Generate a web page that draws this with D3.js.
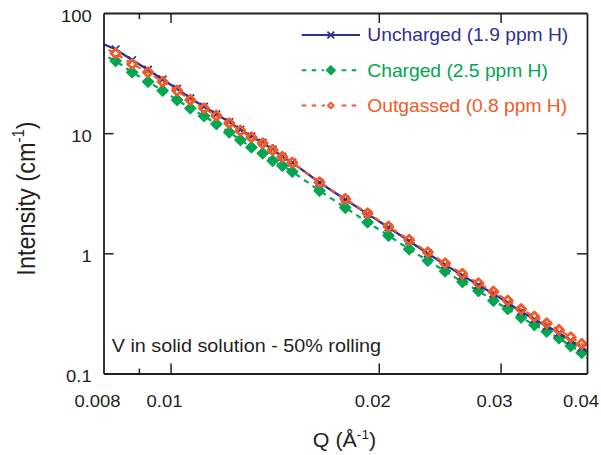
<!DOCTYPE html>
<html>
<head>
<meta charset="utf-8">
<script src="https://cdn.jsdelivr.net/npm/d3@7"></script>
<style>
  html, body { margin: 0; padding: 0; background: #fff; }
  svg { display: block; font-family: "Liberation Sans", Arial, Helvetica, sans-serif; }
</style>
</head>
<body>
<svg id="chart" width="601" height="455"></svg>
<script>
// Scattering vector Q (1/Å), shared by all three samples
const qValues = [0.00788, 0.00833, 0.00880, 0.00928, 0.00974, 0.01022, 0.01068, 0.01118,
  0.01165, 0.01216, 0.01262, 0.01309, 0.01359, 0.01405, 0.01451, 0.01500,
  0.01642, 0.01789, 0.01927, 0.02066, 0.02213, 0.02355, 0.02494, 0.02642,
  0.02787, 0.02929, 0.03073, 0.03212, 0.03357, 0.03498, 0.03644, 0.03789,
  0.03930, 0.04070];

// Intensity (1/cm) per sample
const uncharged = [57.0, 49.9, 40.6, 33.7, 27.98, 23.46, 19.55, 16.61, 14.36, 12.37, 10.69,
  9.39, 8.34, 7.30, 6.37, 5.68, 3.882, 2.808, 2.131, 1.643, 1.268, 0.998, 0.805,
  0.654, 0.545, 0.462, 0.3876, 0.3273, 0.2829, 0.2484, 0.2177, 0.1885, 0.1649, 0.1447];
const charged = [46.7, 39.9, 32.1, 26.8, 22.6, 18.9, 16.1, 13.9, 11.93, 10.17, 8.78,
  7.63, 6.80, 5.90, 5.36, 4.78, 3.323, 2.400, 1.814, 1.404, 1.082, 0.870, 0.710,
  0.578, 0.487, 0.404, 0.345, 0.292, 0.2537, 0.2232, 0.1967, 0.1697, 0.1487, 0.1348];
const outgassed = [53.6, 46.2, 37.65, 32.1, 26.8, 22.6, 18.9, 16.1, 13.98, 12.09, 10.49,
  9.25, 8.24, 7.25, 6.34, 5.68, 3.905, 2.836, 2.156, 1.668, 1.293, 1.021, 0.827,
  0.674, 0.564, 0.480, 0.404, 0.343, 0.297, 0.262, 0.2305, 0.2004, 0.1763, 0.1557];

const seriesNames = ["Uncharged (1.9 ppm H)", "Charged (2.5 ppm H)", "Outgassed (0.8 ppm H)"];

// Axis ticks
const xLabelTicks = [0.008, 0.01, 0.02, 0.03, 0.04];
const xMajorTicks = [0.01, 0.02, 0.03];
const xMinorTicks = [0.009];
const yLabelTicks = [0.1, 1, 10, 100];
const yInnerTicks = [1, 10];
const annotation = "V in solid solution - 50% rolling";

const INK = "#231f20";
const BLUE = "#2e3192";
const GREEN = "#00a651";
const ORANGE = "#f15a29";
const FONT_STRETCH = 1.1;

const plotLeft = 103.5, plotRight = 587, plotTop = 13, plotBottom = 373.5;

const svg = d3.select("#chart");
const x = d3.scaleLog().domain([0.008, 0.04]).range([plotLeft, plotRight]);
const y = d3.scaleLog().domain([0.1, 100]).range([plotBottom, plotTop]);

svg.append("defs").append("clipPath").attr("id", "plot-area")
  .append("rect").attr("x", plotLeft).attr("y", plotTop)
  .attr("width", plotRight - plotLeft).attr("height", plotBottom - plotTop);

// Marker shapes
function diamond(cx, cy, r) {
  return `M${cx},${cy - r}L${cx + r},${cy}L${cx},${cy + r}L${cx - r},${cy}Z`;
}
function cross(cx, cy, r) {
  return `M${cx - r},${cy - r}L${cx + r},${cy + r}M${cx - r},${cy + r}L${cx + r},${cy - r}`;
}

const makeRows = vals => qValues.map((q, i) => ({ q, v: vals[i] }));
const line = d3.line().x(d => x(d.q)).y(d => y(d.v));

const plot = svg.append("g").attr("clip-path", "url(#plot-area)");

// Charged: dashed green with filled diamonds
const gCharged = plot.append("g");
gCharged.append("path").datum(makeRows(charged)).attr("d", line)
  .attr("fill", "none").attr("stroke", GREEN).attr("stroke-width", 2.2)
  .attr("stroke-dasharray", "5.5,5");
gCharged.selectAll("path.m").data(makeRows(charged)).join("path").attr("class", "m")
  .attr("d", d => diamond(x(d.q), y(d.v), 5.6)).attr("fill", GREEN)
  .attr("stroke", GREEN).attr("stroke-width", 1.2).attr("stroke-linejoin", "round");

// Uncharged: solid blue with crosses
const gUncharged = plot.append("g");
gUncharged.append("path").datum(makeRows(uncharged)).attr("d", line)
  .attr("fill", "none").attr("stroke", BLUE).attr("stroke-width", 2.3);
gUncharged.selectAll("path.m").data(makeRows(uncharged)).join("path").attr("class", "m")
  .attr("d", d => cross(x(d.q), y(d.v), 3.8)).attr("fill", "none")
  .attr("stroke", BLUE).attr("stroke-width", 1.7);

// Outgassed: dashed orange with open diamonds
const gOut = plot.append("g");
gOut.append("path").datum(makeRows(outgassed)).attr("d", line)
  .attr("fill", "none").attr("stroke", ORANGE).attr("stroke-width", 2.2)
  .attr("stroke-dasharray", "5.5,5");
gOut.selectAll("path.m").data(makeRows(outgassed)).join("path").attr("class", "m")
  .attr("d", d => diamond(x(d.q), y(d.v), 4.6)).attr("fill", "none")
  .attr("stroke", ORANGE).attr("stroke-width", 2.8).attr("stroke-linejoin", "round");

// Axes: ticks point inward, frame drawn by the axis domains
function styleAxis(g) {
  g.selectAll(".domain").attr("stroke", INK).attr("stroke-width", 1.8);
  g.selectAll(".tick line").attr("stroke", INK).attr("stroke-width", 1.5);
}

const fmtX = d => String(d);
const axB = svg.append("g").attr("transform", `translate(0,${plotBottom})`)
  .call(d3.axisBottom(x).tickValues(xLabelTicks).tickSizeInner(-10).tickSizeOuter(0).tickFormat(fmtX));
axB.selectAll(".tick line").filter(d => d === 0.008 || d === 0.04).remove();
axB.selectAll(".tick text")
  .attr("y", 0).attr("dy", 0)
  .attr("x", -6.5 / FONT_STRETCH)
  .attr("transform", `translate(0,33) scale(${FONT_STRETCH},1)`)
  .attr("font-size", 16.8).attr("fill", INK);
axB.attr("font-family", null).attr("font-size", null);
styleAxis(axB);

const axBm = svg.append("g").attr("transform", `translate(0,${plotBottom})`)
  .call(d3.axisBottom(x).tickValues(xMinorTicks).tickSize(-5).tickFormat(""));
axBm.select(".domain").remove();
styleAxis(axBm);

const axT = svg.append("g").attr("transform", `translate(0,${plotTop})`)
  .call(d3.axisTop(x).tickValues(xMajorTicks).tickSizeInner(-10).tickSizeOuter(0).tickFormat(""));
styleAxis(axT);
const axTm = svg.append("g").attr("transform", `translate(0,${plotTop})`)
  .call(d3.axisTop(x).tickValues(xMinorTicks).tickSize(-6).tickFormat(""));
axTm.select(".domain").remove();
styleAxis(axTm);

const axL = svg.append("g").attr("transform", `translate(${plotLeft},0)`)
  .call(d3.axisLeft(y).tickValues(yLabelTicks).tickSizeInner(-10).tickSizeOuter(0)
    .tickFormat(d => String(d)));
axL.selectAll(".tick line").filter(d => d === 0.1 || d === 100).remove();
axL.selectAll(".tick text")
  .attr("x", 0).attr("dy", 0).attr("y", 0)
  .attr("transform", `translate(-11.8,8) scale(${FONT_STRETCH},1)`)
  .attr("font-size", 16.8).attr("fill", INK);
axL.attr("font-family", null).attr("font-size", null);
styleAxis(axL);

const axR = svg.append("g").attr("transform", `translate(${plotRight},0)`)
  .call(d3.axisRight(y).tickValues(yInnerTicks).tickSizeInner(-10).tickSizeOuter(0).tickFormat(""));
styleAxis(axR);

// Axis titles
const xTitle = svg.append("text")
  .attr("transform", `translate(344.5,446.5) scale(${FONT_STRETCH},1)`)
  .attr("text-anchor", "middle").attr("font-size", 19.5).attr("fill", INK);
xTitle.append("tspan").text("Q (Å");
xTitle.append("tspan").attr("font-size", 12.5).attr("dy", -8).text("-1");
xTitle.append("tspan").attr("dy", 8).text(")");

const yTitle = svg.append("text")
  .attr("transform", `translate(35,198.5) scale(${FONT_STRETCH},1) rotate(-90)`)
  .attr("text-anchor", "middle").attr("font-size", 23.5).attr("fill", INK);
yTitle.append("tspan").text("Intensity (cm");
yTitle.append("tspan").attr("font-size", 15).attr("dy", -10).text("-1");
yTitle.append("tspan").attr("dy", 10).text(")");

// Annotation
svg.append("text")
  .attr("transform", `translate(111.7,351.7) scale(${FONT_STRETCH},1)`)
  .attr("font-size", 18).attr("fill", INK).text(annotation);

// Legend
const legendRows = [
  { name: seriesNames[0], color: BLUE, dash: null, marker: "cross" },
  { name: seriesNames[1], color: GREEN, dash: "4.5,5.5", marker: "filled" },
  { name: seriesNames[2], color: ORANGE, dash: "4.5,5.5", marker: "open" }
];
const legendY = d3.scalePoint().domain(d3.range(legendRows.length)).range([35, 105.5]);
const lg = svg.append("g");
legendRows.forEach((r, i) => {
  const ly = legendY(i);
  const x0 = 301.7, x1 = 360, xm = (x0 + x1) / 2;
  lg.append("line").attr("x1", x0).attr("x2", x1).attr("y1", ly).attr("y2", ly)
    .attr("stroke", r.color).attr("stroke-width", r.dash ? 2 : 1.8)
    .attr("stroke-dasharray", r.dash);
  if (r.marker === "cross") {
    lg.append("path").attr("d", cross(xm, ly, 3.4)).attr("stroke", r.color)
      .attr("stroke-width", 1.8).attr("fill", "none");
  } else if (r.marker === "filled") {
    lg.append("rect").attr("x", xm - 7).attr("y", ly - 3).attr("width", 14).attr("height", 6).attr("fill", "#fff");
    lg.append("path").attr("d", diamond(xm, ly, 4.8)).attr("fill", r.color)
      .attr("stroke", r.color).attr("stroke-width", 1);
  } else {
    lg.append("rect").attr("x", xm - 6).attr("y", ly - 3).attr("width", 12).attr("height", 6).attr("fill", "#fff");
    lg.append("path").attr("d", diamond(xm, ly, 2.8)).attr("fill", "#fff")
      .attr("stroke", r.color).attr("stroke-width", 2).attr("stroke-linejoin", "round");
  }
  lg.append("text")
    .attr("transform", `translate(367.3,${ly + 6.4}) scale(${FONT_STRETCH},1)`)
    .attr("font-size", 17.5).attr("fill", r.color).text(r.name);
});
</script>
</body>
</html>
